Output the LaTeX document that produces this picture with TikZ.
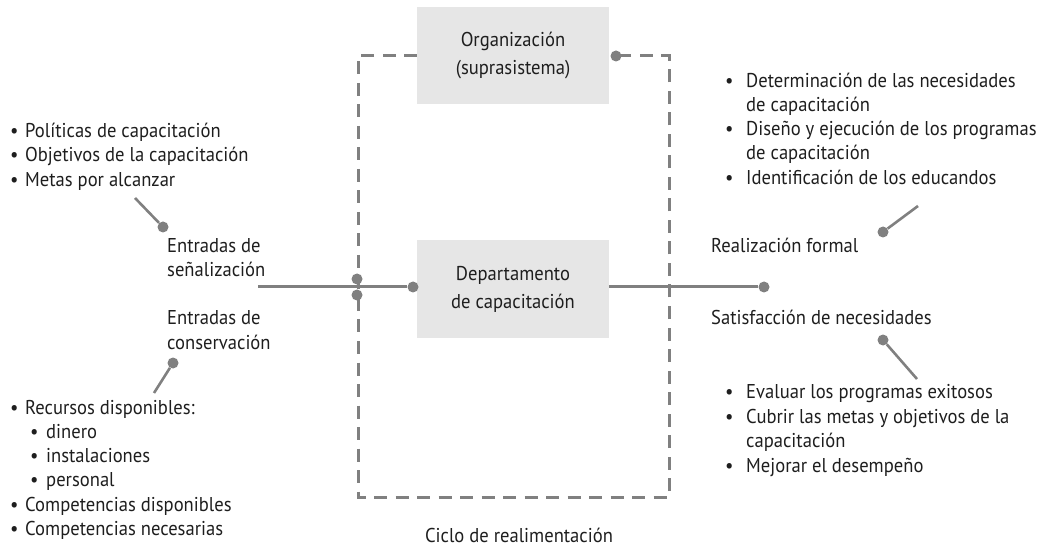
\documentclass[tikz,border=0pt]{standalone}
\usepackage{fontspec}
\setmainfont[FakeStretch=0.93]{PT Sans}
\definecolor{ln}{RGB}{128,128,128}
\definecolor{boxfill}{RGB}{230,230,230}
\definecolor{txt}{RGB}{30,30,30}
\begin{document}
\begin{tikzpicture}[x=1pt,y=-1pt,
  every node/.style={font=\fontsize{20}{28}\selectfont, text=txt},
  tl/.style={anchor=west, inner sep=0pt, text height=14pt, text depth=0pt},
  gbox/.style={fill=boxfill, draw=none, minimum width=192pt, minimum height=97pt, align=center, inner sep=0pt},
  dot/.style={circle, fill=ln, inner sep=0pt, minimum size=11pt},
  conn/.style={draw=ln, line width=3pt},
  lead/.style={draw=ln, line width=2.6pt},
  loop/.style={draw=ln, line width=3pt, dash pattern=on 13pt off 8.5pt}
]
\useasboundingbox (0,0) rectangle (1053,548);

% dashed feedback loop
\coordinate (c1) at (417,56);
\coordinate (c2) at (358,56);
\coordinate (c3) at (358,497);
\coordinate (c4) at (669,497);
\coordinate (c5) at (669,56);
\coordinate (c6) at (616,56);
\draw[loop] (c1) -- (c2) -- (c3) -- (c4) -- (c5) -- (c6);

% boxes
\node[gbox] (org) at (513,56) {Organización\\(suprasistema)};
\node[gbox] (dept) at (513,289) {Departamento\\de capacitación};

\node[dot] (dtop) at (616,56) {};
\node[dot] (dl1) at (357,279) {};
\node[dot] (dl2) at (357,295) {};
\node[dot] (din) at (413,287) {};
\node[dot] (dout) at (764,287) {};

% main connectors
\coordinate (lin) at (258,287);
\draw[conn] (lin) -- (din);
\draw[conn] (dept.east |- dout) -- (dout);

% labels
\node[tl] (es1) at (167,246) {Entradas de};
\node[tl] (es2) at (167,270) {señalización};
\node[tl] (ec1) at (167,318) {Entradas de};
\node[tl] (ec2) at (167,342) {conservación};
\node[tl] (rf) at (711,246) {Realización formal};
\node[tl] (sn) at (711,317) {Satisfacción de necesidades};
\node[anchor=center, inner sep=0pt, text height=14pt, text depth=0pt] (ciclo) at (519,535) {Ciclo de realimentación};

% left top list
\node[tl] (a1) at (25,131) {Políticas de capacitación};
\node[tl] (a2) at (25,155) {Objetivos de la capacitación};
\node[tl] (a3) at (25,180) {Metas por alcanzar};
\foreach \y in {131,155,180} \node[tl] at (10,\y) {•};

% left bottom list
\node[tl] (b1) at (25,407) {Recursos disponibles:};
\node[tl] (b2) at (46,431) {dinero};
\node[tl] (b3) at (46,455) {instalaciones};
\node[tl] (b4) at (46,479) {personal};
\node[tl] (b5) at (25,504) {Competencias disponibles};
\node[tl] (b6) at (25,528) {Competencias necesarias};
\foreach \y in {407,504,528} \node[tl] at (10,\y) {•};
\foreach \y in {431,455,479} \node[tl] at (30,\y) {•};

% right top list
\node[tl] (r1) at (746,81) {Determinación de las necesidades};
\node[tl] (r2) at (746,105) {de capacitación};
\node[tl] (r3) at (746,129) {Diseño y ejecución de los programas};
\node[tl] (r4) at (746,153) {de capacitación};
\node[tl] (r5) at (746,178) {Identificación de los educandos};
\foreach \y in {81,129,178} \node[tl] at (725,\y) {•};

% right bottom list
\node[tl] (s1) at (746,391) {Evaluar los programas exitosos};
\node[tl] (s2) at (746,416) {Cubrir las metas y objetivos de la};
\node[tl] (s3) at (746,440) {capacitación};
\node[tl] (s4) at (746,465) {Mejorar el desempeño};
\foreach \y in {391,416,465} \node[tl] at (725,\y) {•};

% leader lines
\node[dot] (dm) at (163,227) {};
\coordinate (em) at (135,198);
\draw[lead] (em) -- (dm);
\node[dot] (dc) at (173,363) {};
\coordinate (ecn) at (154,393);
\draw[lead] (ecn) -- (dc);
\node[dot] (dr) at (883,232) {};
\coordinate (er) at (918,206);
\draw[lead] (er) -- (dr);
\node[dot] (ds) at (883,340) {};
\coordinate (es) at (917,379);
\draw[lead] (es) -- (ds);
\end{tikzpicture}
\end{document}
